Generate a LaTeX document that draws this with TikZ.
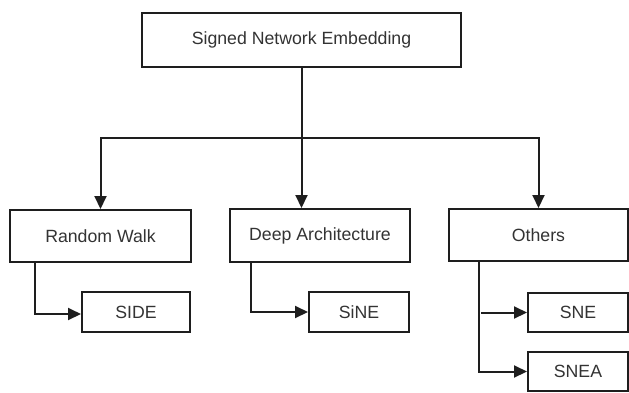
\documentclass[tikz,border=0pt]{standalone}
\usepackage{fontspec}
\setmainfont{Liberation Sans}
\usetikzlibrary{arrows.meta,calc}
\definecolor{inkline}{HTML}{1E1E1E}
\definecolor{inktext}{HTML}{333333}
\begin{document}
\begin{tikzpicture}[x=1pt,y=-1pt,
  box/.style={draw=inkline,line width=2pt,rectangle,inner sep=0pt,
    text=inktext,font=\fontsize{17.7}{20}\selectfont},
  link/.style={draw=inkline,line width=2pt,
    -{Triangle[width=12pt,length=13pt]}},
  bar/.style={draw=inkline,line width=2pt}]
\useasboundingbox (0,0) rectangle (629,392);

% boxes
\node[box,minimum width=319pt,minimum height=54pt] (top) at (301.5,40) {Signed Network Embedding};
\node[box,minimum width=181pt,minimum height=52pt] (rw) at (100.5,236) {Random Walk};
\node[box,minimum width=180pt,minimum height=53pt] (da) at (320,235.5) {Deep Architecture};
\node[box,minimum width=179pt,minimum height=52pt] (oth) at (538.5,235) {Others};
\node[box,minimum width=108pt,minimum height=40pt] (side) at (136,312) {SIDE};
\node[box,minimum width=100pt,minimum height=40pt] (sine) at (359,312) {SiNE};
\node[box,minimum width=100pt,minimum height=39pt] (sne) at (578,312.5) {SNE};
\node[box,minimum width=100pt,minimum height=39pt] (snea) at (578,371.5) {SNEA};

% branching from the root
\coordinate (bus) at (top.south |- 0,138);
\draw[bar] (top.south) -- (bus);
\draw[link] (bus) -| (rw.north);
\draw[link] (bus) -| (oth.north);
\draw[link] (bus) -- (bus |- da.north);

% leaves
\coordinate (rwstem) at ([xshift=-65.5pt]rw.south);
\coordinate (dastem) at ([xshift=-69pt]da.south);
\coordinate (ostem) at ([xshift=-59.5pt]oth.south);
\draw[link] (rwstem) |- ([yshift=-2pt]side.west);
\draw[link] (dastem) |- (sine.west);
\draw[link] (ostem) |- (snea.west);
\draw[link] ($(ostem |- sne.west)+(2,0)$) -- (sne.west);
\end{tikzpicture}
\end{document}
